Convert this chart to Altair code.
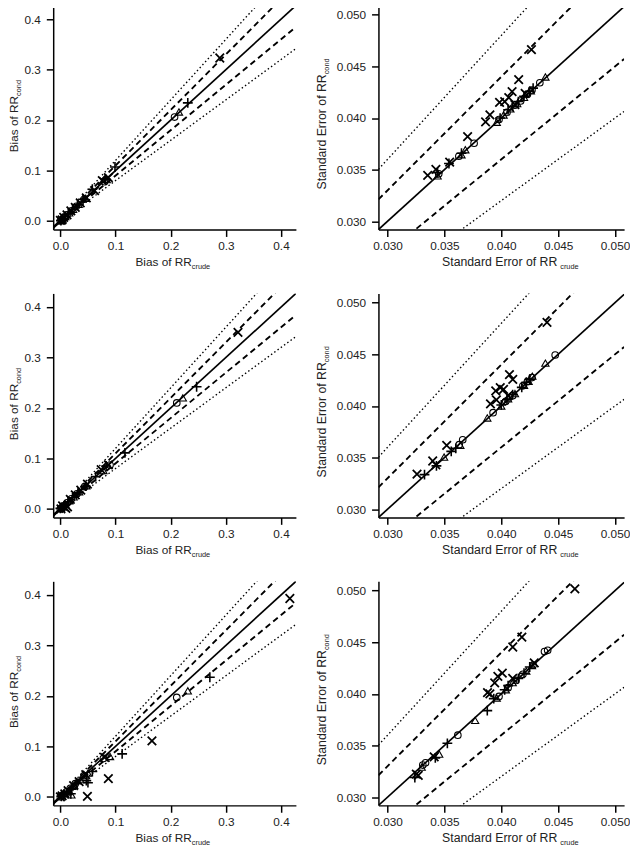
import altair as alt
import pandas as pd

FONT = "Liberation Sans"
TXT = "#222222"

# reference lines y = k * x
slopes_dotted = [0.8, 1.2]
slopes_dashed = [0.9, 1.1]
slopes_solid = [1.0]

bias_ticks = [0.0, 0.1, 0.2, 0.3, 0.4]
se_ticks = [0.030, 0.035, 0.040, 0.045, 0.050]
bias_xdomain = [-0.013, 0.427]
bias_ydomain = [-0.017, 0.427]
se_xdomain = [0.0292, 0.0508]
se_ydomain = [0.0292, 0.0509]

# ---- Row 1, bias ----
a_cross = [(0.289, 0.323), (0.087, 0.086), (0.076, 0.080), (0.062, 0.060), (0.047, 0.046), (0.036, 0.036),
           (0.027, 0.027), (0.019, 0.020), (0.012, 0.012), (0.006, 0.007), (0.003, 0.002), (0.000, 0.001)]
a_plus = [(0.231, 0.234), (0.099, 0.107), (0.058, 0.063), (0.041, 0.043), (0.031, 0.032), (0.022, 0.023),
          (0.015, 0.015), (0.009, 0.009), (0.004, 0.005), (0.001, 0.001), (0.082, 0.083)]
a_circle = [(0.207, 0.206), (0.080, 0.078), (0.043, 0.043), (0.029, 0.029), (0.020, 0.020), (0.012, 0.012),
            (0.007, 0.007), (0.003, 0.003), (0.000, 0.000)]
a_tri = [(0.215, 0.216), (0.084, 0.082), (0.046, 0.045), (0.033, 0.033), (0.023, 0.023), (0.016, 0.016),
         (0.009, 0.009), (0.004, 0.004), (0.001, 0.001)]

# ---- Row 1, standard error ----
b_cross = [(0.04265, 0.04664), (0.04153, 0.04373), (0.04095, 0.04256), (0.04066, 0.04199), (0.03985, 0.04152),
           (0.04030, 0.04160), (0.03900, 0.04031), (0.03862, 0.03962), (0.03704, 0.03820), (0.03546, 0.03573),
           (0.03425, 0.03503), (0.03353, 0.03446), (0.04210, 0.04240), (0.04120, 0.04130)]
b_plus = [(0.03540, 0.03560), (0.03650, 0.03660), (0.03990, 0.04000), (0.04060, 0.04080), (0.04100, 0.04110),
          (0.04150, 0.04160), (0.04200, 0.04210), (0.04250, 0.04260), (0.04280, 0.04290), (0.03440, 0.03470)]
b_circle = [(0.04339, 0.04342), (0.03761, 0.03756), (0.03627, 0.03630), (0.03450, 0.03460), (0.03980, 0.03985),
            (0.04050, 0.04055), (0.04120, 0.04125), (0.04170, 0.04165), (0.04230, 0.04230), (0.04270, 0.04272)]
b_tri = [(0.04388, 0.04398), (0.03684, 0.03693), (0.03440, 0.03440), (0.03960, 0.03960), (0.04020, 0.04030),
         (0.04080, 0.04090), (0.04140, 0.04140), (0.04200, 0.04200), (0.04260, 0.04265), (0.03650, 0.03645)]

# ---- Row 2, bias ----
c_cross = [(0.322, 0.350), (0.087, 0.087), (0.074, 0.078), (0.049, 0.049), (0.037, 0.037), (0.027, 0.028),
           (0.018, 0.019), (0.013, 0.004), (0.008, 0.003), (0.004, 0.006), (0.001, 0.000), (0.010, 0.001)]
c_plus = [(0.247, 0.242), (0.117, 0.111), (0.083, 0.085), (0.064, 0.064), (0.046, 0.045), (0.032, 0.032),
          (0.022, 0.022), (0.014, 0.014), (0.008, 0.008), (0.003, 0.003), (0.000, 0.001)]
c_circle = [(0.211, 0.210), (0.090, 0.087), (0.044, 0.044), (0.030, 0.030), (0.020, 0.020), (0.012, 0.012),
            (0.006, 0.006), (0.002, 0.002), (0.000, 0.000)]
c_tri = [(0.222, 0.220), (0.078, 0.076), (0.047, 0.046), (0.034, 0.034), (0.024, 0.024), (0.016, 0.016),
         (0.009, 0.009), (0.004, 0.004), (0.001, 0.001)]

# ---- Row 2, standard error ----
d_cross = [(0.04402, 0.04810), (0.04072, 0.04304), (0.04101, 0.04257), (0.03991, 0.04178), (0.04020, 0.04160),
           (0.03951, 0.04147), (0.03957, 0.04058), (0.03905, 0.04020), (0.03520, 0.03619), (0.03397, 0.03467),
           (0.03259, 0.03341), (0.04060, 0.04100), (0.03425, 0.03429)]
d_plus = [(0.03325, 0.03335), (0.03430, 0.03420), (0.03560, 0.03560), (0.03600, 0.03590), (0.04050, 0.04060),
          (0.04100, 0.04110), (0.04180, 0.04180), (0.04220, 0.04230), (0.04250, 0.04260), (0.04000, 0.04010)]
d_circle = [(0.04474, 0.04494), (0.03928, 0.03935), (0.03661, 0.03673), (0.03630, 0.03625), (0.04040, 0.04045),
            (0.04190, 0.04195), (0.04230, 0.04235), (0.04270, 0.04275), (0.04100, 0.04100)]
d_tri = [(0.04388, 0.04415), (0.04273, 0.04289), (0.03877, 0.03884), (0.03497, 0.03505), (0.03640, 0.03620),
         (0.04000, 0.04000), (0.04060, 0.04070), (0.04120, 0.04120), (0.04200, 0.04200), (0.04240, 0.04240)]

# ---- Row 3, bias ----
e_cross = [(0.416, 0.393), (0.166, 0.111), (0.087, 0.036), (0.049, 0.001), (0.080, 0.078), (0.046, 0.044),
           (0.034, 0.030), (0.024, 0.022), (0.014, 0.012), (0.008, 0.006), (0.003, 0.002), (0.000, 0.000)]
e_plus = [(0.271, 0.237), (0.112, 0.085), (0.050, 0.028), (0.047, 0.032), (0.058, 0.050), (0.030, 0.026),
          (0.020, 0.015), (0.019, 0.006), (0.012, 0.008), (0.006, 0.004), (0.002, 0.001)]
e_circle = [(0.211, 0.197), (0.078, 0.076), (0.043, 0.042), (0.027, 0.026), (0.018, 0.017), (0.011, 0.010),
            (0.006, 0.005), (0.002, 0.002), (0.000, 0.000)]
e_tri = [(0.231, 0.210), (0.090, 0.080), (0.050, 0.047), (0.036, 0.034), (0.025, 0.023), (0.020, 0.004),
         (0.015, 0.013), (0.008, 0.007), (0.003, 0.002)]

# ---- Row 3, standard error ----
f_cross = [(0.04647, 0.05016), (0.04181, 0.04549), (0.04101, 0.04454), (0.04009, 0.04201), (0.03970, 0.04170),
           (0.03942, 0.04107), (0.03879, 0.04012), (0.03900, 0.04000), (0.03253, 0.03222), (0.03270, 0.03210),
           (0.03410, 0.03390), (0.04100, 0.04150), (0.04290, 0.04300)]
f_plus = [(0.03934, 0.03954), (0.03877, 0.03838), (0.03526, 0.03521), (0.03420, 0.03380), (0.03240, 0.03190),
          (0.04060, 0.04080), (0.04150, 0.04150), (0.04200, 0.04200), (0.04250, 0.04260), (0.04030, 0.04040)]
f_circle = [(0.04408, 0.04422), (0.04380, 0.04410), (0.03618, 0.03600), (0.03334, 0.03332), (0.03310, 0.03310),
            (0.03980, 0.03975), (0.04060, 0.04060), (0.04130, 0.04130), (0.04190, 0.04190), (0.04280, 0.04280)]
f_tri = [(0.03770, 0.03743), (0.03454, 0.03417), (0.04040, 0.04040), (0.04100, 0.04110), (0.04220, 0.04220),
         (0.04270, 0.04275), (0.03300, 0.03290), (0.03960, 0.03960)]

CROSS = "M-1,-1L1,1M-1,1L1,-1"
PLUS = "M-1,0L1,0M0,-1L0,1"

H = 228
W_LEFT = 247
W_RIGHT = 250


def enc_xy(kind):
    if kind == "bias":
        xd, yd, ticks, fmt = bias_xdomain, bias_ydomain, bias_ticks, ".1f"
    else:
        xd, yd, ticks, fmt = se_xdomain, se_ydomain, se_ticks, ".3f"
    x = alt.X("x:Q", scale=alt.Scale(domain=xd, nice=False, zero=False),
              axis=alt.Axis(values=ticks, format=fmt, title=None, labelPadding=4))
    y = alt.Y("y:Q", scale=alt.Scale(domain=yd, nice=False, zero=False),
              axis=alt.Axis(values=ticks, format=fmt, title=None, labelPadding=6))
    return x, y


def ref_lines(kind, slopes):
    xd = bias_xdomain if kind == "bias" else se_xdomain
    rows = []
    for k in slopes:
        rows.append({"x": xd[0], "y": k * xd[0], "k": k})
        rows.append({"x": xd[1], "y": k * xd[1], "k": k})
    return pd.DataFrame(rows)


def points(pts):
    return pd.DataFrame(pts, columns=["x", "y"])


def panel(kind, cross, plus, circle, tri, width):
    x, y = enc_xy(kind)
    dotted = alt.Chart(ref_lines(kind, slopes_dotted)).mark_line(
        clip=True, color="black", strokeWidth=1.4, strokeDash=[1.5, 2.6]).encode(x=x, y=y, detail="k:N")
    dashed = alt.Chart(ref_lines(kind, slopes_dashed)).mark_line(
        clip=True, color="black", strokeWidth=1.9, strokeDash=[6, 4]).encode(x=x, y=y, detail="k:N")
    solid = alt.Chart(ref_lines(kind, slopes_solid)).mark_line(
        clip=True, color="black", strokeWidth=1.7).encode(x=x, y=y, detail="k:N")
    p_cross = alt.Chart(points(cross)).mark_point(
        shape=CROSS, size=75, filled=False, color="black", strokeWidth=1.8, opacity=1).encode(x=x, y=y)
    p_plus = alt.Chart(points(plus)).mark_point(
        shape=PLUS, size=100, filled=False, color="black", strokeWidth=1.6, opacity=1).encode(x=x, y=y)
    p_circle = alt.Chart(points(circle)).mark_point(
        shape="circle", size=45, filled=False, color="black", strokeWidth=1.1, opacity=1).encode(x=x, y=y)
    p_tri = alt.Chart(points(tri)).mark_point(
        shape="triangle-up", size=55, filled=False, color="black", strokeWidth=1.1, opacity=1).encode(x=x, y=y)

    one = alt.Data(values=[{"a": 1}])
    if kind == "bias":
        main, fs = "Bias of RR", 12
        xa, ya, ybx, sdx = 141, 92, -36, 0
    else:
        main, fs = "Standard Error of RR", 12.5
        xa, ya, ybx, sdx = 182, 70, -53, 3
    base = H + 37
    t1 = alt.Chart(one).mark_text(text=main, align="right", baseline="alphabetic", font=FONT,
                                  fontSize=fs, color=TXT).encode(x=alt.value(xa), y=alt.value(base))
    t2 = alt.Chart(one).mark_text(text="crude", align="left", baseline="alphabetic", font=FONT,
                                  fontSize=7.5, color=TXT, dx=sdx, dy=3
                                  ).encode(x=alt.value(xa), y=alt.value(base))
    t3 = alt.Chart(one).mark_text(text=main, align="right", baseline="alphabetic", font=FONT, angle=270,
                                  fontSize=fs, color=TXT).encode(x=alt.value(ybx), y=alt.value(ya))
    t4 = alt.Chart(one).mark_text(text="cond", align="left", baseline="alphabetic", font=FONT, angle=270,
                                  fontSize=7.5, color=TXT, dy=3).encode(x=alt.value(ybx), y=alt.value(ya))
    return alt.layer(dotted, dashed, solid, p_circle, p_tri, p_plus, p_cross, t1, t2, t3, t4).properties(
        width=width, height=H)


panels = [
    panel("bias", a_cross, a_plus, a_circle, a_tri, W_LEFT),
    panel("se", b_cross, b_plus, b_circle, b_tri, W_RIGHT),
    panel("bias", c_cross, c_plus, c_circle, c_tri, W_LEFT),
    panel("se", d_cross, d_plus, d_circle, d_tri, W_RIGHT),
    panel("bias", e_cross, e_plus, e_circle, e_tri, W_LEFT),
    panel("se", f_cross, f_plus, f_circle, f_tri, W_RIGHT),
]

chart = alt.concat(*panels, columns=2, spacing={"row": 65, "column": 84}, bounds="flush").properties(
    padding={"left": 0, "top": -10, "right": 0, "bottom": 0}
).configure_view(stroke=None).configure_axis(
    domainColor="black", domainWidth=1.5, tickColor="black", tickWidth=1.5, tickSize=7,
    labelFont=FONT, labelFontSize=12, labelColor=TXT, grid=False,
    labelFlush=False, labelOverlap=False
)

chart.save("out.html", embed_options={"renderer": "svg", "actions": False})
